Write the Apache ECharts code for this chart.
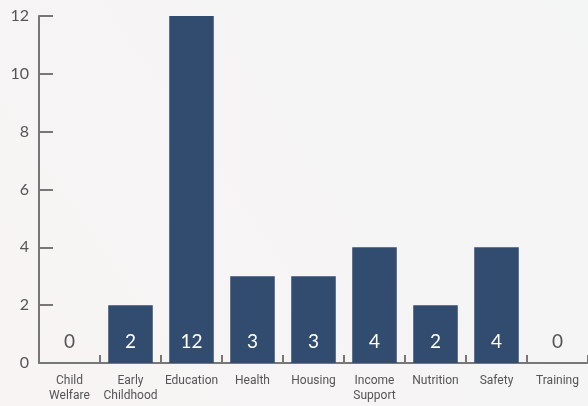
<!DOCTYPE html>
<html>
<head>
<meta charset="utf-8">
<script src="https://cdn.jsdelivr.net/npm/echarts@6/dist/echarts.min.js"></script>
<style>
  html, body { margin: 0; padding: 0; }
  #chart { width: 588px; height: 406px; }
</style>
</head>
<body>
<div id="chart"></div>
<script>
const categories = ['Child\nWelfare', 'Early\nChildhood', 'Education', 'Health', 'Housing', 'Income\nSupport', 'Nutrition', 'Safety', 'Training'];
const counts = [0, 2, 12, 3, 3, 4, 2, 4, 0];
const yTicks = [0, 2, 4, 6, 8, 10, 12];

const chart = echarts.init(document.getElementById('chart'));

chart.setOption({
  backgroundColor: new echarts.graphic.LinearGradient(1, 0, 0, 1, [
    { offset: 0, color: '#f4f5f5' },
    { offset: 1, color: '#f8f4f4' }
  ]),
  animation: false,
  grid: { left: 39, right: -9, top: 16, bottom: 43 },
  xAxis: {
    type: 'category',
    data: categories,
    axisLine: { lineStyle: { color: '#777', width: 2 } },
    axisTick: { show: true, interval: 0, inside: true, length: 8, lineStyle: { color: '#777', width: 2 } },
    axisLabel: {
      color: '#555',
      fontFamily: 'Liberation Sans Narrow, Roboto, sans-serif',
      fontSize: 12,
      lineHeight: 15,
      margin: 10,
      interval: 0
    }
  },
  yAxis: {
    type: 'value',
    min: yTicks[0],
    max: yTicks[yTicks.length - 1],
    interval: 2,
    axisLine: { show: true, lineStyle: { color: '#777', width: 2 } },
    axisTick: { show: true, inside: true, length: 14, lineStyle: { color: '#777', width: 2 } },
    splitLine: { show: false },
    axisLabel: {
      color: '#555',
      fontFamily: 'Lato, Noto Sans, sans-serif',
      fontSize: 16,
      margin: 10
    }
  },
  series: [{
    type: 'bar',
    data: counts.map(v => ({
      value: v,
      label: { color: v === 0 ? '#555' : '#fff' }
    })),
    barCategoryGap: '27%',
    itemStyle: { color: '#324c70' },
    label: {
      show: true,
      position: 'insideBottom',
      distance: 12,
      fontFamily: 'Lato, Noto Sans, sans-serif',
      fontSize: 19
    }
  }]
});
</script>
</body>
</html>
